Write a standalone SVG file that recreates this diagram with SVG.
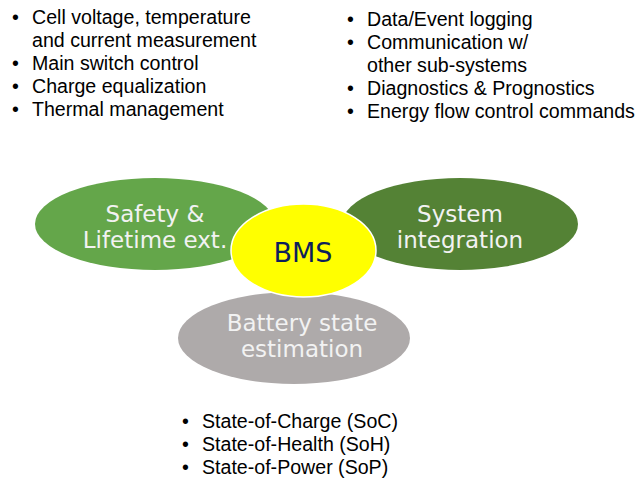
<svg xmlns="http://www.w3.org/2000/svg" width="636" height="479" viewBox="0 0 636 479">
<style>
.b{font-family:"Liberation Sans",Arial,sans-serif;font-size:19.6px;fill:#000}
.e{font-family:"DejaVu Sans",Verdana,sans-serif;font-size:23px;fill:#F2F2F2;text-anchor:middle}
.bms{font-family:"DejaVu Sans",Verdana,sans-serif;font-size:27px;fill:#0E1F5B;text-anchor:middle}
</style>
<rect width="636" height="479" fill="#fff"/>
<g id="list-safety">
<text class="b" x="12" y="24">•</text><text class="b" x="32" y="24">Cell voltage, temperature</text>
<text class="b" x="32" y="47">and current measurement</text>
<text class="b" x="12" y="70">•</text><text class="b" x="32" y="70">Main switch control</text>
<text class="b" x="12" y="93">•</text><text class="b" x="32" y="93">Charge equalization</text>
<text class="b" x="12" y="116">•</text><text class="b" x="32" y="116">Thermal management</text>
</g>
<g id="list-system">
<text class="b" x="347" y="26">•</text><text class="b" x="367" y="26">Data/Event logging</text>
<text class="b" x="347" y="49">•</text><text class="b" x="367" y="49">Communication w/</text>
<text class="b" x="367" y="72">other sub-systems</text>
<text class="b" x="347" y="95">•</text><text class="b" x="367" y="95">Diagnostics &amp; Prognostics</text>
<text class="b" x="347" y="118">•</text><text class="b" x="367" y="118">Energy flow control commands</text>
</g>
<g id="list-state">
<text class="b" x="182" y="428">•</text><text class="b" x="202" y="428">State-of-Charge (SoC)</text>
<text class="b" x="182" y="451">•</text><text class="b" x="202" y="451">State-of-Health (SoH)</text>
<text class="b" x="182" y="474">•</text><text class="b" x="202" y="474">State-of-Power (SoP)</text>
</g>
<g id="safety">
<ellipse cx="155" cy="224" rx="120" ry="46" fill="#64A64A"/>
<text class="e" x="155" y="222">Safety &amp;</text>
<text class="e" x="155" y="248">Lifetime ext.</text>
</g>
<g id="system">
<ellipse cx="460" cy="224" rx="118" ry="46" fill="#548235"/>
<text class="e" x="460" y="222">System</text>
<text class="e" x="460" y="248">integration</text>
</g>
<g id="state">
<ellipse cx="294" cy="338" rx="116" ry="46" fill="#AEAAAA"/>
<text class="e" x="302" y="331">Battery state</text>
<text class="e" x="302" y="357">estimation</text>
</g>
<g id="bms">
<ellipse cx="303.5" cy="250.5" rx="72.5" ry="46.5" fill="#FFFF00" stroke="#fff" stroke-width="1.5"/>
<text class="bms" x="303" y="262">BMS</text>
</g>
<g id="connectors"></g>
</svg>
